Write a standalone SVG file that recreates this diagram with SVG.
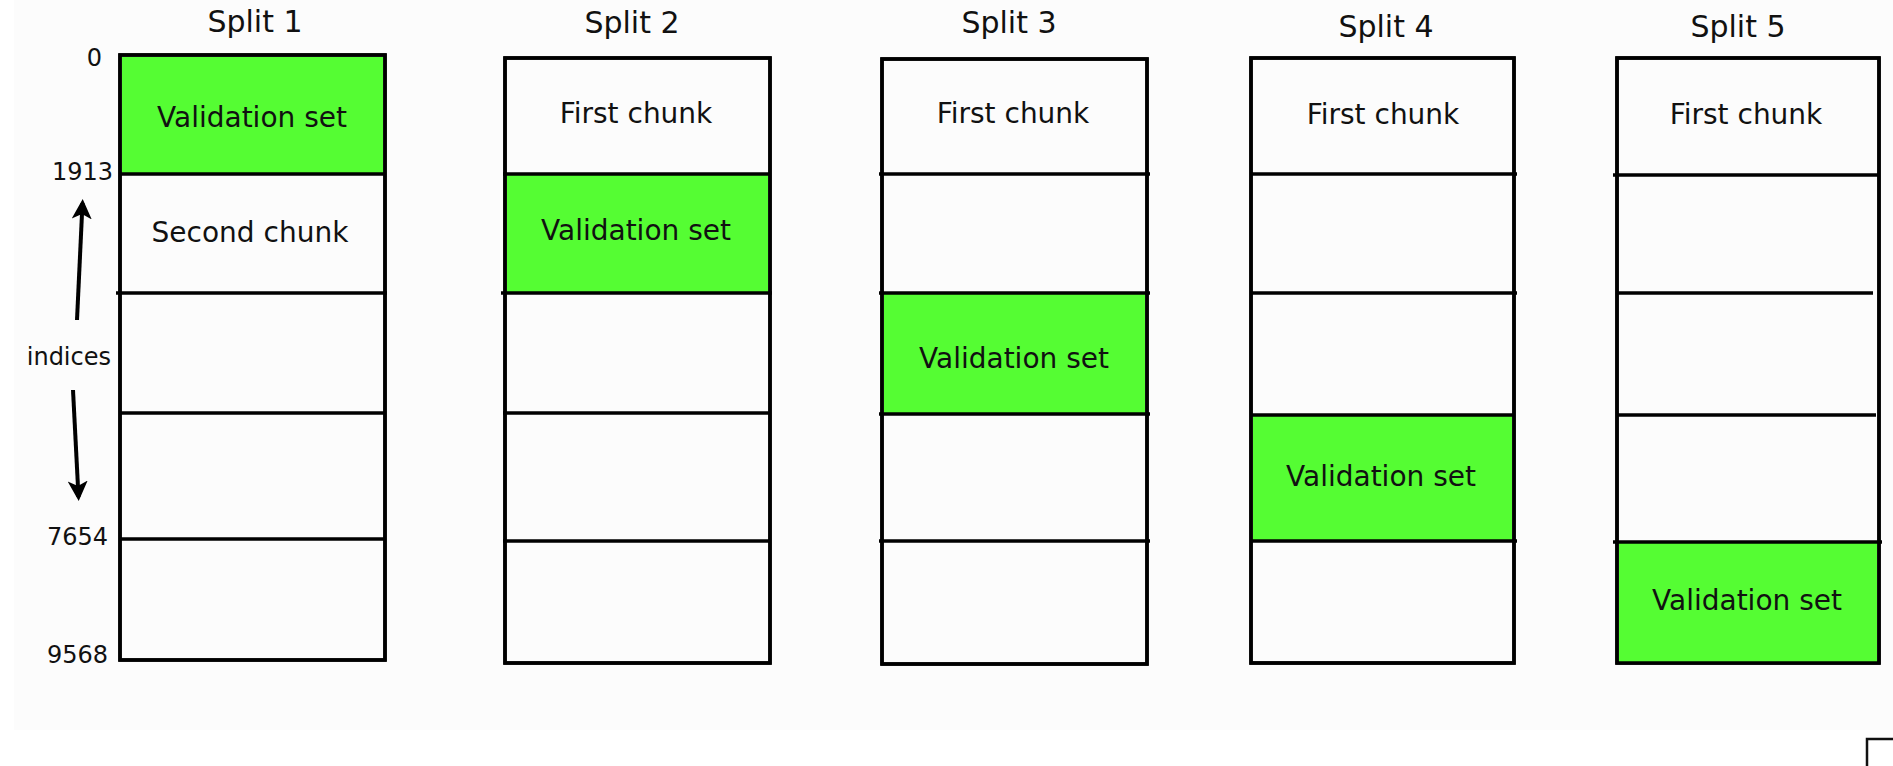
<svg xmlns="http://www.w3.org/2000/svg" width="1893" height="766" viewBox="0 0 1893 766">
  <style>
    .t { font-family: "DejaVu Sans", "Liberation Sans", sans-serif; fill: #111; }
    .title { font-size: 30px; text-anchor: middle; }
    .cell { font-size: 28px; text-anchor: middle; }
    .idx { font-size: 24px; text-anchor: end; }
    .box { fill: #fcfcfc; stroke: #000; stroke-width: 3.5; }
    .sep { stroke: #000; stroke-width: 3.5; fill: none; }
    .val { fill: #55fd33; stroke: none; }
    .arrow { stroke: #000; stroke-width: 4; fill: none; marker-end: url(#ah); }
  </style>
  <defs>
    <marker id="ah" viewBox="0 0 10 10" refX="8" refY="5" markerWidth="5" markerHeight="5.5" orient="auto" markerUnits="strokeWidth">
      <path d="M0,0 L10,5 L0,10 L2.5,5 Z" fill="#000"/>
    </marker>
  </defs>
  <rect x="0" y="0" width="1893" height="766" fill="#ffffff"/>
  <rect x="14" y="0" width="1879" height="730" fill="#fcfcfc"/>

  <g id="axis">
    <text class="t idx" x="102" y="66">0</text>
    <text class="t idx" x="113" y="180">1913</text>
    <text class="t idx" x="111" y="365">indices</text>
    <text class="t idx" x="108" y="545">7654</text>
    <text class="t idx" x="108" y="663">9568</text>
  </g>

  <g id="split1">
    <text class="t title" x="255" y="32">Split 1</text>
    <rect class="box" x="120" y="55" width="265" height="605"/>
    <rect class="val" x="122" y="57" width="261" height="117"/>
    <path class="sep" d="M120,174 H385 M116,293 H387 M120,413 H385 M120,539 H385"/>
    <rect x="120" y="55" width="265" height="605" fill="none" stroke="#000" stroke-width="3.5"/>
    <text class="t cell" x="252" y="127">Validation set</text>
    <text class="t cell" x="250" y="242">Second chunk</text>
  </g>

  <g id="split2">
    <text class="t title" x="632" y="33">Split 2</text>
    <rect class="box" x="505" y="58" width="265" height="605"/>
    <rect class="val" x="507" y="174" width="261" height="119"/>
    <path class="sep" d="M503,174 H770 M501,293 H772 M503,413 H770 M503,541 H770"/>
    <rect x="505" y="58" width="265" height="605" fill="none" stroke="#000" stroke-width="3.5"/>
    <text class="t cell" x="636" y="123">First chunk</text>
    <text class="t cell" x="636" y="240">Validation set</text>
  </g>

  <g id="split3">
    <text class="t title" x="1009" y="33">Split 3</text>
    <rect class="box" x="882" y="59" width="265" height="605"/>
    <rect class="val" x="884" y="293" width="261" height="121"/>
    <path class="sep" d="M879,174 H1150 M879,293 H1150 M879,414 H1150 M879,541 H1150"/>
    <rect x="882" y="59" width="265" height="605" fill="none" stroke="#000" stroke-width="3.5"/>
    <text class="t cell" x="1013" y="123">First chunk</text>
    <text class="t cell" x="1014" y="368">Validation set</text>
  </g>

  <g id="split4">
    <text class="t title" x="1386" y="37">Split 4</text>
    <rect class="box" x="1251" y="58" width="263" height="605"/>
    <rect class="val" x="1253" y="415" width="259" height="126"/>
    <path class="sep" d="M1251,174 H1517 M1251,293 H1517 M1251,415 H1514 M1251,541 H1517"/>
    <rect x="1251" y="58" width="263" height="605" fill="none" stroke="#000" stroke-width="3.5"/>
    <text class="t cell" x="1383" y="124">First chunk</text>
    <text class="t cell" x="1381" y="486">Validation set</text>
  </g>

  <g id="split5">
    <text class="t title" x="1738" y="37">Split 5</text>
    <rect class="box" x="1617" y="58" width="262" height="605"/>
    <rect class="val" x="1619" y="542" width="258" height="121"/>
    <path class="sep" d="M1613,175 H1879 M1617,293 H1873 M1617,415 H1876 M1613,542 H1882"/>
    <rect x="1617" y="58" width="262" height="605" fill="none" stroke="#000" stroke-width="3.5"/>
    <text class="t cell" x="1746" y="124">First chunk</text>
    <text class="t cell" x="1747" y="610">Validation set</text>
  </g>

  <g id="connectors">
    <path class="arrow" d="M77,320 L82.5,203"/>
    <path class="arrow" d="M73,390 L78.5,497"/>
  </g>

  <g id="corner-box">
    <path d="M1867,766 V739 H1893" fill="none" stroke="#111" stroke-width="2.5"/>
  </g>
</svg>
